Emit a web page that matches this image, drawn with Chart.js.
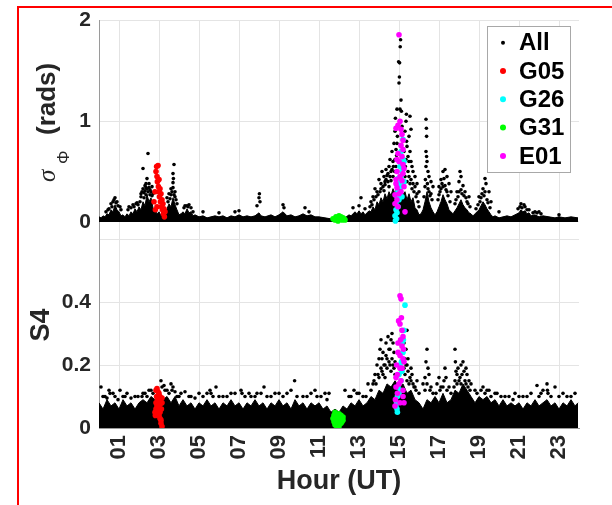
<!DOCTYPE html>
<html><head><meta charset="utf-8">
<script src="https://cdn.jsdelivr.net/npm/chart.js@4.4.1/dist/chart.umd.min.js"></script>
<style>
html,body{margin:0;padding:0;background:#fff;}
#wrap{position:relative;width:612px;height:505px;overflow:hidden;background:#fff;}
#frame{position:absolute;left:17px;top:6px;width:700px;height:600px;border-left:2px solid #f00;border-top:2px solid #f00;}
canvas{position:absolute;left:0;top:0;}
</style></head><body>
<div id="wrap"><div id="frame"></div>
<canvas id="topChart" width="612" height="505"></canvas>
<canvas id="botChart" width="612" height="505"></canvas>
</div>
<script>
// ================= DATA =================
const hourTickValues = [1,3,5,7,9,11,13,15,17,19,21,23];
const hourTickLabels = ['01','03','05','07','09','11','13','15','17','19','21','23'];
const sigmaTickValues = [0,1,2];
const sigmaTickLabels = ['0','1','2'];
const s4TickValues = [0,0.2,0.4,0.6];
const s4TickLabels = ['0','0.2','0.4',''];
const seriesNames = ['All','G05','G26','G31','E01'];

// ---- sigma_Phi (rads), all satellites: upper edge of the dense cloud [hour, value]
const sigmaAllCore = [[0,0.05],[0.1,0.04],[0.2,0.06],[0.3,0.05],[0.4,0.08],[0.5,0.07],[0.6,0.12],[0.7,0.1],[0.8,0.17],[0.9,0.12],[1.0,0.1],[1.1,0.06],[1.2,0.07],[1.3,0.05],[1.4,0.08],[1.5,0.06],[1.6,0.1],[1.7,0.08],[1.8,0.13],[1.9,0.1],[2.0,0.15],[2.1,0.12],[2.2,0.2],[2.3,0.16],[2.4,0.27],[2.5,0.2],[2.6,0.24],[2.7,0.14],[2.8,0.12],[2.9,0.08],[3.0,0.1],[3.1,0.06],[3.2,0.09],[3.3,0.08],[3.4,0.13],[3.5,0.18],[3.6,0.15],[3.7,0.24],[3.8,0.17],[3.9,0.12],[4.0,0.07],[4.1,0.08],[4.2,0.1],[4.3,0.08],[4.4,0.13],[4.5,0.09],[4.6,0.1],[4.7,0.06],[4.8,0.07],[5.0,0.05],[5.2,0.06],[5.4,0.04],[5.6,0.05],[5.8,0.06],[6.0,0.05],[6.2,0.06],[6.4,0.04],[6.6,0.06],[6.8,0.05],[7.0,0.07],[7.2,0.05],[7.4,0.06],[7.6,0.05],[7.8,0.06],[8.0,0.09],[8.1,0.06],[8.3,0.05],[8.6,0.07],[8.8,0.05],[9.0,0.07],[9.2,0.1],[9.4,0.06],[9.6,0.07],[9.8,0.05],[10.0,0.06],[10.2,0.08],[10.4,0.06],[10.6,0.07],[10.8,0.05],[11.0,0.05],[11.3,0.04],[11.6,0.03],[12.0,0.03],[12.3,0.04],[12.5,0.07],[12.6,0.06],[12.8,0.1],[12.9,0.08],[13.0,0.11],[13.1,0.08],[13.2,0.1],[13.3,0.07],[13.4,0.09],[13.5,0.11],[13.6,0.1],[13.7,0.15],[13.8,0.12],[13.9,0.2],[14.0,0.17],[14.1,0.24],[14.2,0.2],[14.3,0.28],[14.4,0.23],[14.5,0.3],[14.6,0.26],[14.7,0.33],[14.8,0.28],[14.9,0.35],[15.0,0.3],[15.1,0.36],[15.2,0.27],[15.3,0.3],[15.4,0.22],[15.5,0.28],[15.6,0.2],[15.7,0.24],[15.8,0.14],[15.9,0.12],[16.0,0.07],[16.1,0.08],[16.2,0.12],[16.3,0.2],[16.4,0.3],[16.5,0.2],[16.6,0.14],[16.7,0.1],[16.8,0.07],[16.9,0.1],[17.0,0.15],[17.1,0.2],[17.2,0.27],[17.3,0.22],[17.4,0.18],[17.5,0.12],[17.6,0.1],[17.7,0.08],[17.8,0.11],[17.9,0.14],[18.0,0.18],[18.1,0.22],[18.2,0.17],[18.3,0.14],[18.4,0.12],[18.5,0.09],[18.6,0.08],[18.7,0.06],[18.8,0.08],[18.9,0.1],[19.0,0.12],[19.1,0.16],[19.2,0.2],[19.3,0.17],[19.4,0.13],[19.5,0.1],[19.6,0.07],[19.7,0.05],[19.8,0.06],[20.0,0.04],[20.2,0.05],[20.4,0.06],[20.6,0.05],[20.8,0.07],[21.0,0.09],[21.1,0.12],[21.2,0.1],[21.3,0.11],[21.4,0.08],[21.5,0.09],[21.6,0.06],[21.8,0.07],[22.0,0.05],[22.2,0.06],[22.5,0.05],[22.8,0.04],[23.0,0.05],[23.3,0.04],[23.6,0.05],[23.95,0.04]];
// ---- sigma_Phi, all satellites: single points above the dense cloud
const sigmaAllPoints = [[0.35,0.1],[0.45,0.12],[0.5,0.13],[0.6,0.18],[0.65,0.15],[0.7,0.2],[0.75,0.22],[0.8,0.24],[0.85,0.19],[0.9,0.2],[0.95,0.16],[1.05,0.15],[1.1,0.12],[1.45,0.12],[1.5,0.15],[1.6,0.14],[1.7,0.17],[1.75,0.15],[1.85,0.18],[1.9,0.19],[1.95,0.17],[2.05,0.2],[2.1,0.25],[2.1,0.28],[2.15,0.3],[2.2,0.33],[2.2,0.53],[2.25,0.29],[2.25,0.24],[2.3,0.36],[2.3,0.31],[2.35,0.34],[2.35,0.38],[2.35,0.27],[2.4,0.43],[2.4,0.33],[2.45,0.68],[2.45,0.3],[2.5,0.38],[2.5,0.34],[2.55,0.32],[2.55,0.27],[2.6,0.3],[2.65,0.35],[2.65,0.26],[2.7,0.28],[3.4,0.24],[3.45,0.2],[3.5,0.28],[3.55,0.23],[3.6,0.33],[3.6,0.27],[3.65,0.3],[3.7,0.39],[3.7,0.34],[3.7,0.48],[3.72,0.43],[3.75,0.57],[3.75,0.27],[3.8,0.3],[3.8,0.25],[3.85,0.22],[3.9,0.18],[4.25,0.14],[4.3,0.16],[4.4,0.16],[4.45,0.15],[4.5,0.17],[4.6,0.14],[4.7,0.1],[5.2,0.1],[6.0,0.09],[6.8,0.1],[7.0,0.11],[7.9,0.16],[8.0,0.24],[8.02,0.28],[8.05,0.2],[9.2,0.17],[9.25,0.14],[10.3,0.14],[10.5,0.1],[12.7,0.14],[13.0,0.16],[13.1,0.24],[13.3,0.13],[13.55,0.15],[13.6,0.2],[13.65,0.17],[13.7,0.25],[13.75,0.22],[13.8,0.33],[13.85,0.25],[13.9,0.3],[13.95,0.27],[14.0,0.42],[14.05,0.3],[14.1,0.38],[14.1,0.33],[14.15,0.5],[14.2,0.35],[14.25,0.45],[14.25,0.31],[14.3,0.4],[14.3,0.37],[14.35,0.52],[14.35,0.42],[14.4,0.46],[14.45,0.4],[14.45,0.48],[14.5,0.55],[14.5,0.35],[14.55,0.62],[14.55,0.45],[14.6,0.5],[14.6,0.41],[14.65,0.7],[14.65,0.52],[14.7,0.6],[14.7,0.45],[14.72,0.55],[14.75,0.78],[14.78,0.5],[14.8,0.9],[14.8,0.62],[14.82,1.03],[14.85,0.72],[14.85,0.55],[14.88,0.66],[14.9,1.12],[14.9,0.78],[14.92,0.85],[14.95,0.95],[14.98,1.59],[15.0,1.38],[15.02,1.44],[15.03,1.58],[15.05,1.12],[15.08,1.81],[15.06,1.74],[15.1,1.21],[15.12,1.1],[15.15,0.95],[15.2,0.8],[15.25,0.7],[15.3,0.9],[15.3,0.45],[15.32,0.55],[15.35,1.0],[15.35,0.62],[15.37,1.07],[15.38,0.8],[15.4,0.75],[15.4,0.4],[15.45,0.65],[15.45,0.5],[15.5,0.6],[15.5,0.45],[15.5,0.85],[15.55,1.05],[15.55,0.7],[15.55,0.38],[15.6,0.92],[15.6,0.42],[15.6,0.6],[15.65,0.55],[15.65,0.33],[15.7,0.5],[15.7,0.38],[15.75,0.3],[15.8,0.45],[15.8,0.35],[15.85,0.25],[15.9,0.38],[15.9,0.28],[15.95,0.2],[16.0,0.3],[16.0,0.15],[16.25,0.25],[16.3,0.35],[16.32,0.42],[16.35,1.02],[16.35,0.7],[16.35,0.55],[16.37,0.93],[16.38,0.85],[16.38,0.65],[16.4,0.6],[16.42,0.38],[16.45,0.5],[16.45,0.33],[16.5,0.45],[16.5,0.3],[16.55,0.26],[16.6,0.4],[16.6,0.28],[16.65,0.22],[16.7,0.35],[16.95,0.22],[17.0,0.35],[17.0,0.27],[17.05,0.3],[17.1,0.42],[17.1,0.33],[17.15,0.38],[17.2,0.5],[17.2,0.35],[17.25,0.43],[17.3,0.52],[17.3,0.36],[17.35,0.32],[17.4,0.45],[17.4,0.3],[17.45,0.26],[17.5,0.38],[17.55,0.2],[17.6,0.3],[17.8,0.18],[17.85,0.22],[17.9,0.3],[17.95,0.25],[18.0,0.4],[18.0,0.3],[18.05,0.5],[18.1,0.45],[18.1,0.32],[18.15,0.28],[18.2,0.36],[18.25,0.26],[18.3,0.3],[18.35,0.24],[18.4,0.2],[18.45,0.18],[18.5,0.25],[18.55,0.15],[18.85,0.13],[18.95,0.17],[19.0,0.25],[19.05,0.2],[19.1,0.24],[19.15,0.28],[19.2,0.33],[19.25,0.26],[19.3,0.43],[19.3,0.3],[19.35,0.38],[19.4,0.22],[19.45,0.19],[19.5,0.3],[19.55,0.14],[19.6,0.2],[20.0,0.1],[20.95,0.13],[21.05,0.15],[21.1,0.18],[21.15,0.14],[21.25,0.17],[21.3,0.15],[21.4,0.12],[21.5,0.12],[21.7,0.09],[21.8,0.1],[21.9,0.09],[22.0,0.1],[22.1,0.08],[23.0,0.07]];
const sigmaG05 = [[2.75,0.2],[2.8,0.3],[2.85,0.5],[2.88,0.55],[2.9,0.45],[2.92,0.4],[2.95,0.56],[2.97,0.35],[3.0,0.42],[3.0,0.3],[3.02,0.25],[3.05,0.33],[3.07,0.2],[3.1,0.28],[3.12,0.15],[3.15,0.22],[3.17,0.12],[3.2,0.18],[3.22,0.08],[3.25,0.13],[3.27,0.05],[3.3,0.1],[2.82,0.12],[2.9,0.15]];
const sigmaG26 = [[15.2,0.82],[15.1,0.7],[15.2,0.62],[15.05,0.55],[15.15,0.5],[15.1,0.45],[14.95,0.43],[15.0,0.38],[15.1,0.35],[14.95,0.3],[15.05,0.27],[14.9,0.25],[15.0,0.22],[14.85,0.18],[14.95,0.15],[14.85,0.12],[14.9,0.09],[14.8,0.06],[14.88,0.03],[14.82,0.01],[15.25,0.4],[15.25,0.6],[15.15,0.25]];
const sigmaG31 = [[11.7,0.03],[11.8,0.02],[11.85,0.05],[11.9,0.04],[12.0,0.06],[12.05,0.03],[12.1,0.05],[12.15,0.02],[12.2,0.04],[12.25,0.03],[11.95,0.01],[12.3,0.02]];
const sigmaE01 = [[15.0,1.86],[15.05,1.0],[14.95,0.96],[14.85,0.93],[15.1,0.92],[15.15,0.87],[15.2,0.81],[15.1,0.76],[15.2,0.72],[14.95,0.68],[15.15,0.65],[15.0,0.6],[15.2,0.57],[15.25,0.53],[14.9,0.5],[15.05,0.45],[15.15,0.41],[14.85,0.38],[14.9,0.34],[15.1,0.3],[14.8,0.27],[14.9,0.22],[14.8,0.18],[14.95,0.15],[15.3,0.1],[15.25,0.35],[15.2,0.48],[14.85,0.42],[15.0,0.28],[14.9,0.62]];

// ---- S4, all satellites: upper edge of the dense cloud [hour, value]
const s4AllCore = [[0,0.08],[0.2,0.06],[0.4,0.09],[0.6,0.07],[0.8,0.08],[1.0,0.06],[1.2,0.09],[1.4,0.07],[1.6,0.08],[1.8,0.06],[2.0,0.08],[2.2,0.09],[2.4,0.08],[2.6,0.1],[2.8,0.09],[3.0,0.11],[3.2,0.09],[3.4,0.1],[3.6,0.08],[3.8,0.1],[4.0,0.07],[4.2,0.09],[4.4,0.07],[4.6,0.08],[4.8,0.06],[5.0,0.08],[5.2,0.07],[5.4,0.09],[5.6,0.07],[5.8,0.08],[6.0,0.06],[6.2,0.08],[6.4,0.07],[6.6,0.09],[6.8,0.07],[7.0,0.08],[7.2,0.06],[7.4,0.08],[7.6,0.07],[7.8,0.09],[8.0,0.07],[8.2,0.08],[8.4,0.06],[8.6,0.08],[8.8,0.07],[9.0,0.09],[9.2,0.07],[9.4,0.08],[9.6,0.06],[9.8,0.09],[10.0,0.07],[10.2,0.08],[10.4,0.06],[10.6,0.08],[10.8,0.07],[11.0,0.08],[11.2,0.06],[11.4,0.07],[11.6,0.05],[11.8,0.06],[12.0,0.05],[12.2,0.07],[12.4,0.06],[12.6,0.08],[12.8,0.07],[13.0,0.09],[13.2,0.07],[13.4,0.08],[13.6,0.1],[13.8,0.09],[14.0,0.12],[14.2,0.11],[14.4,0.14],[14.6,0.13],[14.8,0.15],[15.0,0.13],[15.2,0.14],[15.4,0.11],[15.6,0.12],[15.8,0.09],[16.0,0.08],[16.2,0.06],[16.4,0.09],[16.6,0.08],[16.8,0.1],[17.0,0.08],[17.2,0.11],[17.4,0.08],[17.6,0.09],[17.8,0.12],[18.0,0.11],[18.2,0.14],[18.4,0.12],[18.6,0.1],[18.8,0.08],[19.0,0.1],[19.2,0.09],[19.4,0.1],[19.6,0.08],[19.8,0.09],[20.0,0.07],[20.2,0.09],[20.4,0.07],[20.6,0.08],[20.8,0.07],[21.0,0.08],[21.2,0.06],[21.4,0.08],[21.6,0.07],[21.8,0.09],[22.0,0.07],[22.2,0.08],[22.4,0.09],[22.6,0.07],[22.8,0.08],[23.0,0.06],[23.2,0.08],[23.4,0.07],[23.6,0.09],[23.8,0.07],[23.95,0.08]];
const s4AllPoints = [[0.1,0.13],[0.2,0.1],[0.3,0.1],[0.4,0.095],[0.5,0.12],[0.55,0.11],[0.7,0.11],[0.8,0.1],[0.95,0.09],[1.05,0.12],[1.2,0.1],[1.3,0.1],[1.4,0.11],[1.6,0.095],[1.8,0.1],[1.95,0.1],[2.15,0.1],[2.2,0.11],[2.3,0.11],[2.4,0.1],[2.5,0.12],[2.6,0.12],[2.7,0.11],[3.1,0.15],[3.15,0.13],[3.25,0.135],[3.3,0.12],[3.4,0.12],[3.5,0.11],[3.6,0.14],[3.65,0.12],[3.7,0.13],[3.8,0.115],[3.9,0.1],[4.0,0.1],[4.1,0.11],[4.3,0.115],[4.5,0.1],[4.6,0.1],[4.8,0.095],[5.0,0.11],[5.2,0.1],[5.4,0.11],[5.55,0.12],[5.6,0.11],[5.7,0.1],[5.85,0.13],[6.0,0.1],[6.2,0.1],[6.4,0.1],[6.6,0.11],[6.8,0.11],[7.1,0.12],[7.15,0.11],[7.3,0.1],[7.5,0.11],[7.6,0.1],[7.8,0.1],[7.9,0.11],[8.1,0.11],[8.25,0.13],[8.4,0.1],[8.6,0.1],[8.8,0.11],[9.0,0.11],[9.2,0.1],[9.4,0.11],[9.6,0.12],[9.78,0.15],[9.9,0.1],[10.2,0.1],[10.4,0.1],[10.6,0.11],[10.8,0.12],[10.9,0.1],[11.1,0.1],[11.3,0.11],[11.4,0.09],[11.5,0.11],[12.3,0.12],[12.5,0.1],[12.6,0.1],[12.75,0.12],[12.9,0.11],[13.0,0.11],[13.2,0.1],[13.35,0.1],[13.45,0.14],[13.6,0.12],[13.7,0.14],[13.75,0.15],[13.8,0.17],[13.85,0.14],[13.9,0.2],[13.95,0.17],[14.0,0.22],[14.0,0.16],[14.05,0.25],[14.1,0.28],[14.1,0.19],[14.15,0.18],[14.15,0.22],[14.2,0.24],[14.2,0.17],[14.25,0.2],[14.3,0.2],[14.3,0.16],[14.35,0.27],[14.35,0.23],[14.4,0.22],[14.4,0.19],[14.45,0.29],[14.5,0.25],[14.5,0.21],[14.55,0.2],[14.55,0.25],[14.6,0.28],[14.6,0.18],[14.65,0.3],[14.65,0.22],[14.7,0.27],[14.7,0.2],[14.75,0.24],[14.75,0.19],[14.8,0.21],[14.8,0.17],[15.2,0.29],[15.25,0.27],[15.25,0.19],[15.3,0.22],[15.3,0.17],[15.35,0.25],[15.35,0.2],[15.4,0.31],[15.4,0.2],[15.4,0.15],[15.45,0.18],[15.45,0.22],[15.5,0.14],[15.55,0.16],[15.6,0.19],[15.6,0.15],[15.65,0.17],[15.7,0.14],[15.75,0.13],[15.8,0.13],[15.85,0.12],[15.9,0.15],[16.0,0.11],[16.2,0.14],[16.3,0.16],[16.3,0.12],[16.35,0.21],[16.4,0.25],[16.4,0.14],[16.45,0.19],[16.5,0.17],[16.55,0.12],[16.6,0.13],[16.7,0.11],[16.85,0.11],[16.9,0.14],[17.0,0.16],[17.05,0.12],[17.1,0.13],[17.2,0.13],[17.25,0.15],[17.3,0.19],[17.35,0.16],[17.4,0.12],[17.5,0.13],[17.6,0.11],[17.75,0.13],[17.8,0.25],[17.8,0.15],[17.82,0.21],[17.85,0.18],[17.9,0.17],[17.9,0.14],[17.95,0.19],[18.0,0.15],[18.05,0.16],[18.1,0.2],[18.1,0.14],[18.15,0.17],[18.2,0.21],[18.25,0.18],[18.3,0.15],[18.35,0.19],[18.35,0.14],[18.4,0.17],[18.45,0.13],[18.5,0.15],[18.55,0.12],[18.6,0.14],[18.8,0.12],[18.9,0.11],[19.1,0.12],[19.2,0.13],[19.3,0.11],[19.4,0.12],[19.5,0.12],[19.6,0.1],[19.8,0.11],[19.9,0.11],[20.1,0.1],[20.3,0.1],[20.5,0.1],[20.7,0.09],[20.8,0.11],[21.0,0.1],[21.2,0.1],[21.4,0.1],[21.6,0.11],[21.9,0.135],[22.0,0.1],[22.1,0.11],[22.2,0.12],[22.4,0.14],[22.42,0.12],[22.45,0.11],[22.6,0.1],[22.8,0.13],[23.0,0.1],[23.2,0.11],[23.4,0.1],[23.6,0.1],[23.8,0.11]];
const s4G05 = [[2.85,0.12],[2.9,0.125],[2.95,0.115],[3.0,0.11],[3.05,0.1],[2.88,0.1],[2.92,0.09],[2.85,0.08],[3.0,0.085],[3.05,0.075],[2.9,0.07],[2.95,0.065],[2.85,0.06],[3.0,0.055],[3.05,0.05],[2.92,0.045],[3.0,0.04],[3.05,0.03],[3.1,0.025],[3.1,0.015],[3.15,0.005],[3.12,0.06],[3.15,0.095],[3.15,0.08],[2.8,0.05],[2.82,0.04]];
const s4G26 = [[15.3,0.39],[15.25,0.31],[15.22,0.28],[15.15,0.27],[15.2,0.24],[15.12,0.21],[15.05,0.2],[15.15,0.18],[15.0,0.17],[15.1,0.15],[14.95,0.13],[15.0,0.11],[14.92,0.1],[14.88,0.08],[14.85,0.07],[14.9,0.06],[14.92,0.05],[15.08,0.12]];
const s4G31 = [[11.7,0.03],[11.75,0.04],[11.8,0.05],[11.85,0.03],[11.9,0.04],[11.95,0.02],[12.0,0.045],[12.05,0.03],[12.1,0.04],[12.15,0.02],[12.2,0.035],[11.8,0.01],[11.9,0.0],[12.0,0.005],[12.1,0.015],[12.2,0.025],[11.75,0.02]];
const s4E01 = [[15.05,0.42],[15.1,0.41],[15.12,0.35],[14.98,0.34],[15.05,0.33],[15.15,0.31],[15.2,0.29],[15.08,0.28],[15.15,0.26],[15.22,0.25],[14.95,0.24],[15.05,0.23],[15.2,0.22],[15.25,0.21],[14.88,0.2],[15.05,0.19],[14.92,0.17],[14.85,0.16],[15.1,0.15],[15.0,0.14],[14.85,0.13],[15.2,0.12],[14.92,0.11],[14.82,0.09],[15.05,0.08],[15.25,0.08],[15.2,0.1],[14.8,0.07],[15.15,0.19],[14.95,0.27]];

// ================= STYLE =================
const FONT = '"Liberation Sans", Arial, Helvetica, sans-serif';
const TEXT = '#262626';
const GRID = '#e4e4e4';
const AXIS = '#9a9a9a';
const seriesColors = {All:'#000000', G05:'#ff0000', G26:'#00ffff', G31:'#00ff00', E01:'#ff00ff'};
Chart.defaults.font.family = FONT;
Chart.defaults.color = TEXT;

const pts = a => a.map(([x, y]) => ({x, y}));

function coreSet(data) {
  return {type:'line', label:'All (dense)', data:pts(data), order:10,
    borderColor:'#000', backgroundColor:'#000', borderWidth:1, pointRadius:0,
    tension:0, fill:'origin'};
}
function dotSet(name, data, r, order) {
  return {type:'scatter', label:name, data:pts(data), order:order,
    backgroundColor:seriesColors[name], borderColor:seriesColors[name], borderWidth:0,
    pointRadius:r, pointHoverRadius:r};
}

const legendPlugin = {
  id:'boxLegend',
  afterDraw(chart, args, opts) {
    if (!opts.show) return;
    const ctx = chart.ctx;
    const L = 487, T = 26, W = 83, H = 146;
    ctx.save();
    ctx.fillStyle = '#fff';
    ctx.fillRect(L, T, W, H);
    ctx.strokeStyle = '#a8a8a8'; ctx.lineWidth = 1;
    ctx.strokeRect(L + 0.5, T + 0.5, W, H);
    ctx.font = 'bold 24px ' + FONT;
    ctx.textBaseline = 'middle'; ctx.textAlign = 'left';
    seriesNames.forEach((name, i) => {
      const y = 42.7 + i * 28.3;
      ctx.fillStyle = seriesColors[name];
      ctx.beginPath();
      ctx.arc(503, y, name === 'All' ? 2 : 3, 0, Math.PI * 2);
      ctx.fill();
      ctx.fillStyle = '#000';
      ctx.fillText(name, 519, y + 1);
    });
    ctx.restore();
  }
};

const titlePlugin = {
  id:'axisTitles',
  afterDraw(chart, args, opts) {
    const ctx = chart.ctx;
    ctx.save();
    ctx.fillStyle = TEXT;
    ctx.textAlign = 'left'; ctx.textBaseline = 'alphabetic';
    if (opts.which === 'top') {
      ctx.translate(55, 182);
      ctx.rotate(-Math.PI / 2);
      ctx.font = 'italic 25px "Liberation Serif", "DejaVu Serif", serif';
      ctx.fillText('σ', 0, 0);
      ctx.font = '17px ' + FONT;
      ctx.fillText('Φ', 18, 14);
      ctx.font = 'bold 26px ' + FONT;
      ctx.fillText('(rads)', 47, 0);
    } else {
      ctx.save();
      ctx.translate(49, 325);
      ctx.rotate(-Math.PI / 2);
      ctx.textAlign = 'center';
      ctx.font = 'bold 27px ' + FONT;
      ctx.fillText('S4', 0, 0);
      ctx.restore();
      ctx.textAlign = 'center';
      ctx.font = 'bold 27px ' + FONT;
      ctx.fillText('Hour (UT)', 339, 489);
    }
    ctx.restore();
  }
};

function xScale(showLabels) {
  return {
    type:'linear', position:'bottom', min:0, max:24,
    afterBuildTicks: s => { s.ticks = hourTickValues.map(v => ({value:v})); },
    afterFit: s => { s.height = showLabels ? 40 : 0; },
    grid:{color:GRID, lineWidth:1, drawTicks:false},
    border:{display:showLabels, color:AXIS},
    ticks:{display:showLabels, autoSkip:false, minRotation:90, maxRotation:90, padding:7,
      color:TEXT, font:{size:22, weight:'bold'},
      callback:(v, i) => hourTickLabels[i]}
  };
}
function yScale(min, max, vals, labels) {
  return {
    type:'linear', position:'left', min:min, max:max,
    afterBuildTicks: s => { s.ticks = vals.map(v => ({value:v})); },
    afterFit: s => { s.width = 99; },
    grid:{color:GRID, lineWidth:1, drawTicks:false},
    border:{display:true, color:AXIS, width:1},
    ticks:{padding:8, color:TEXT, font:{size:21, weight:'bold'},
      callback:(v, i) => labels[i]}
  };
}

new Chart(document.getElementById('topChart'), {
  type:'scatter',
  plugins:[legendPlugin, titlePlugin],
  data:{datasets:[
    coreSet(sigmaAllCore),
    dotSet('All', sigmaAllPoints, 1.8, 9),
    dotSet('G05', sigmaG05, 2.8, 4),
    dotSet('G26', sigmaG26, 2.8, 3),
    dotSet('G31', sigmaG31, 2.8, 2),
    dotSet('E01', sigmaE01, 2.8, 1)
  ]},
  options:{
    responsive:false, animation:false, devicePixelRatio:1,
    layout:{padding:{left:0, right:33, top:20, bottom:266}},
    scales:{x:xScale(false), y:yScale(-0.17, 2, sigmaTickValues, sigmaTickLabels)},
    plugins:{legend:{display:false}, tooltip:{enabled:false},
      boxLegend:{show:true}, axisTitles:{which:'top'}}
  }
});

new Chart(document.getElementById('botChart'), {
  type:'scatter',
  plugins:[legendPlugin, titlePlugin],
  data:{datasets:[
    coreSet(s4AllCore),
    dotSet('All', s4AllPoints, 1.8, 9),
    dotSet('G05', s4G05, 2.8, 4),
    dotSet('G26', s4G26, 2.8, 3),
    dotSet('G31', s4G31, 2.8, 2),
    dotSet('E01', s4E01, 2.8, 1)
  ]},
  options:{
    responsive:false, animation:false, devicePixelRatio:1,
    layout:{padding:{left:0, right:33, top:239, bottom:37}},
    scales:{x:xScale(true), y:yScale(0, 0.6, s4TickValues, s4TickLabels)},
    plugins:{legend:{display:false}, tooltip:{enabled:false},
      boxLegend:{show:false}, axisTitles:{which:'bottom'}}
  }
});
</script>
</body></html>
